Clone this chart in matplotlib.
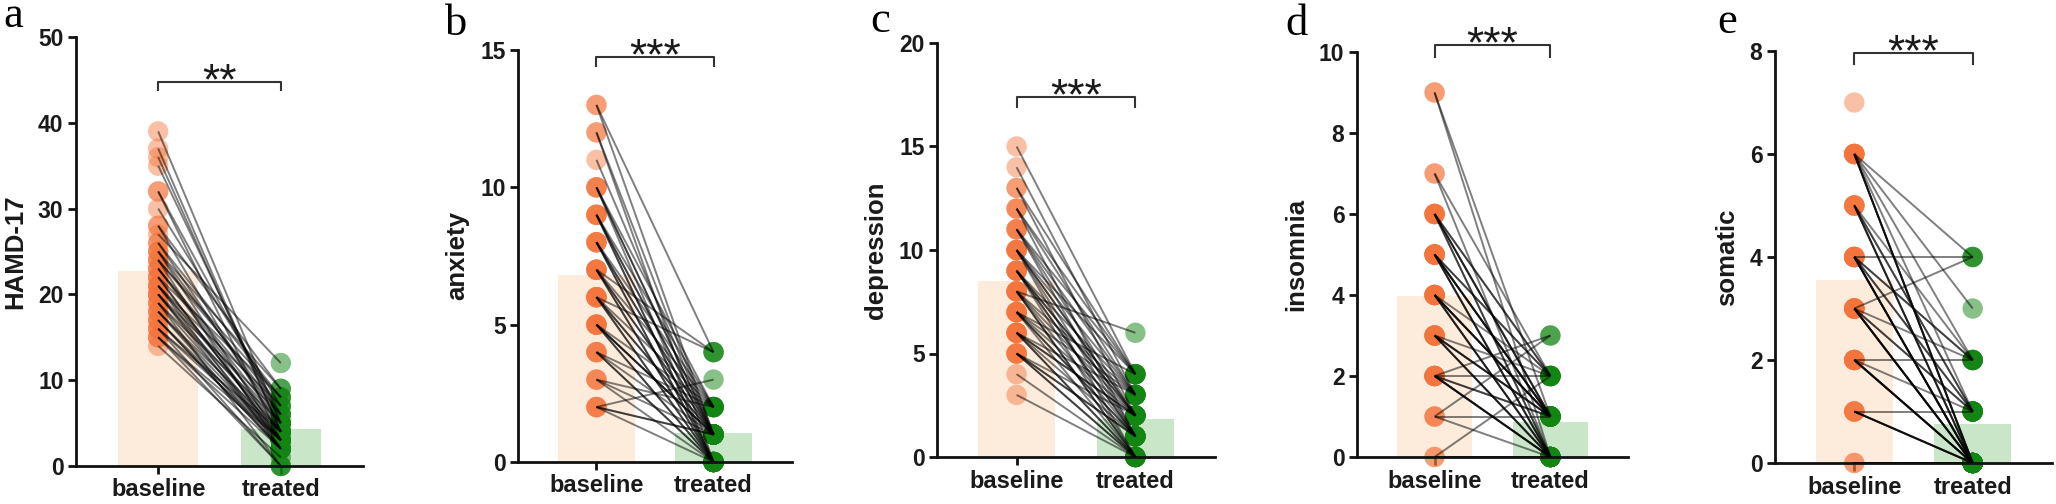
import numpy as np
import matplotlib
matplotlib.use("Agg")
import matplotlib.pyplot as plt

# ---------------- data ----------------
groups = ["baseline", "treated"]
panel_letters = ["a", "b", "c", "d", "e"]
ylabels = ["HAMD-17", "anxiety", "depression", "insomnia", "somatic"]
ymaxes = [50, 15, 20, 10, 8]
ysteps = [10, 5, 5, 2, 2]
stars = ["**", "***", "***", "***", "***"]

hamd_base = [39, 37, 36, 35, 32, 32, 30, 28, 28, 27, 26, 26, 25, 25, 25, 24, 24, 24,
             23, 23, 23, 22, 22, 22, 21, 21, 21, 21, 20, 20, 20, 20, 19, 19, 19, 18,
             18, 18, 17, 17, 17, 16, 16, 16, 15, 15, 15, 14]
hamd_treat = [5, 4, 4, 5, 6, 3, 7, 9, 4, 12, 8, 5, 9, 6, 3, 8, 7, 2,
              6, 5, 4, 8, 3, 3, 7, 5, 4, 2, 6, 4, 2, 3, 5, 3, 0, 4,
              2, 3, 3, 2, 2, 4, 3, 0, 3, 2, 0, 1]

anx_base = [13, 13, 12, 12, 11, 10, 10, 10, 10, 9, 9, 9, 9, 9, 8, 8, 8, 8, 8,
            7, 7, 7, 7, 7, 7, 6, 6, 6, 6, 6, 6, 5, 5, 5, 5, 5, 5, 4, 4, 4, 4,
            3, 3, 3, 2, 2, 2, 2]
anx_treat = [4, 1, 0, 1, 1, 2, 1, 0, 1, 1, 0, 2, 1, 0, 1, 0, 2, 1, 0,
             4, 1, 0, 2, 1, 0, 4, 1, 0, 2, 1, 0, 1, 0, 2, 1, 0, 1, 1, 0, 2, 0,
             2, 1, 0, 3, 1, 0, 1]

dep_base = [15, 14, 13, 13, 12, 12, 12, 11, 11, 11, 11, 10, 10, 10, 10, 10, 10,
            9, 9, 9, 9, 9, 9, 8, 8, 8, 8, 8, 8, 7, 7, 7, 7, 7, 7,
            6, 6, 6, 6, 6, 6, 5, 5, 5, 5, 5, 4, 3]
dep_treat = [4, 3, 4, 2, 4, 3, 1, 4, 3, 2, 1, 4, 3, 2, 1, 0, 2,
             3, 2, 1, 0, 2, 1, 6, 3, 2, 1, 0, 0, 4, 2, 1, 0, 3, 1,
             3, 2, 1, 0, 2, 0, 2, 1, 0, 1, 0, 0, 0]

ins_base = [9, 9, 7, 7, 6, 6, 6, 6, 6, 6, 6, 5, 5, 5, 5, 5, 5, 5, 5, 5,
            4, 4, 4, 4, 4, 4, 4, 4, 3, 3, 3, 3, 3, 3, 3,
            2, 2, 2, 2, 2, 2, 2, 2, 1, 1, 1, 0, 0]
ins_treat = [1, 0, 2, 0, 2, 1, 1, 0, 1, 2, 0, 1, 2, 0, 1, 1, 0, 2, 1, 0,
             1, 0, 2, 1, 0, 1, 0, 1, 1, 0, 2, 0, 1, 0, 1,
             3, 2, 0, 1, 0, 1, 0, 0, 3, 0, 1, 2, 0]

som_base = [7, 6, 6, 6, 6, 6, 6, 6, 6, 5, 5, 5, 5, 5, 5,
            4, 4, 4, 4, 4, 4, 4, 4, 4, 4, 3, 3, 3, 3, 3, 3, 3, 3, 3,
            2, 2, 2, 2, 2, 2, 2, 1, 1, 1, 1, 1, 0, 0]
som_treat = [np.nan, 4, 3, 0, 0, 1, 2, 0, 0, 2, 0, 1, 0, 0, 1,
             4, 2, 0, 1, 0, 0, 2, 0, 1, 0, 4, 2, 1, 0, 0, 0, 1, 0, 0,
             1, 0, 0, 2, 0, 0, 0, 1, 0, 0, 0, 0, 0, 0]

base_data = [hamd_base, anx_base, dep_base, ins_base, som_base]
treat_data = [hamd_treat, anx_treat, dep_treat, ins_treat, som_treat]

# ---------------- layout / style ----------------
W, H = 2056, 504
fig = plt.figure(figsize=(W / 100, H / 100), dpi=100)

# axes boxes in pixels: left, top, right, bottom
boxes = [(76, 37, 363, 466), (518, 50, 792, 462), (937, 43, 1215, 457),
         (1357, 52, 1628, 457), (1775, 51, 2052, 463)]
# bracket top (data), drop (data)
brackets = [(44.8, 1.0), (14.75, 0.35), (17.4, 0.5), (10.17, 0.3), (7.96, 0.22)]
letter_pos = [(3, 27), (445, 35), (870, 32), (1285, 35), (1717, 33)]

orange = "#F4743B"
green = "#138513"
bar_colors = ["#FDEBDC", "#C9E6C9"]
sans = "Liberation Sans"
serif = "Liberation Serif"

for i in range(5):
    l, t, r, b = boxes[i]
    ax = fig.add_axes([l / W, 1 - b / H, (r - l) / W, (b - t) / H])
    base = np.array(base_data[i], dtype=float)
    treat = np.array(treat_data[i], dtype=float)
    means = [np.nanmean(base), np.nanmean(treat)]
    ax.bar([0, 1], means, width=0.65, color=bar_colors, zorder=1)
    ax.scatter(np.zeros(len(base)), base, s=215, color=orange, alpha=0.45,
               edgecolors="none", zorder=2, clip_on=False)
    ok = ~np.isnan(treat)
    ax.scatter(np.ones(ok.sum()), treat[ok], s=215, color=green, alpha=0.5,
               edgecolors="none", zorder=2, clip_on=False)
    for y0, y1 in zip(base, treat):
        if np.isnan(y1):
            continue
        ax.plot([0, 1], [y0, y1], color="black", alpha=0.5, lw=1.4, zorder=3,
                solid_capstyle="butt")

    ax.set_xlim(-0.67, 1.67)
    ax.set_ylim(0, ymaxes[i])
    ax.set_yticks(np.arange(0, ymaxes[i] + 0.01, ysteps[i]))
    ax.set_xticks([0, 1])
    ax.set_xticklabels(groups)
    for s in ["top", "right"]:
        ax.spines[s].set_visible(False)
    for s in ["left", "bottom"]:
        ax.spines[s].set_linewidth(2.0)
        ax.spines[s].set_color("#111111")
    ax.tick_params(axis="both", width=2.0, length=6, color="#111111",
                   labelcolor="#1a1a1a", labelsize=16.5, pad=3)
    for lab in ax.get_xticklabels() + ax.get_yticklabels():
        lab.set_fontfamily(sans)
        lab.set_fontweight("bold")
    ax.tick_params(axis="x", labelsize=17, pad=3)
    ax.set_ylabel(ylabels[i], fontsize=18.5, fontweight="bold", family=sans,
                  color="#1a1a1a", labelpad=8)

    top, drop = brackets[i]
    ax.plot([0, 0, 1, 1], [top - drop, top, top, top - drop], color="#333333",
            lw=1.5, clip_on=False, zorder=4)
    ax.annotate(stars[i], xy=(0.5, top), xytext=(0, -9), textcoords="offset points",
                ha="center", va="baseline", fontsize=32, family=sans,
                color="#1a1a1a", annotation_clip=False)

    lx, ly = letter_pos[i]
    fig.text(lx / W, 1 - ly / H, panel_letters[i], family=serif, fontsize=32,
             ha="left", va="baseline", color="black")

fig.savefig("out.png", dpi=100)
